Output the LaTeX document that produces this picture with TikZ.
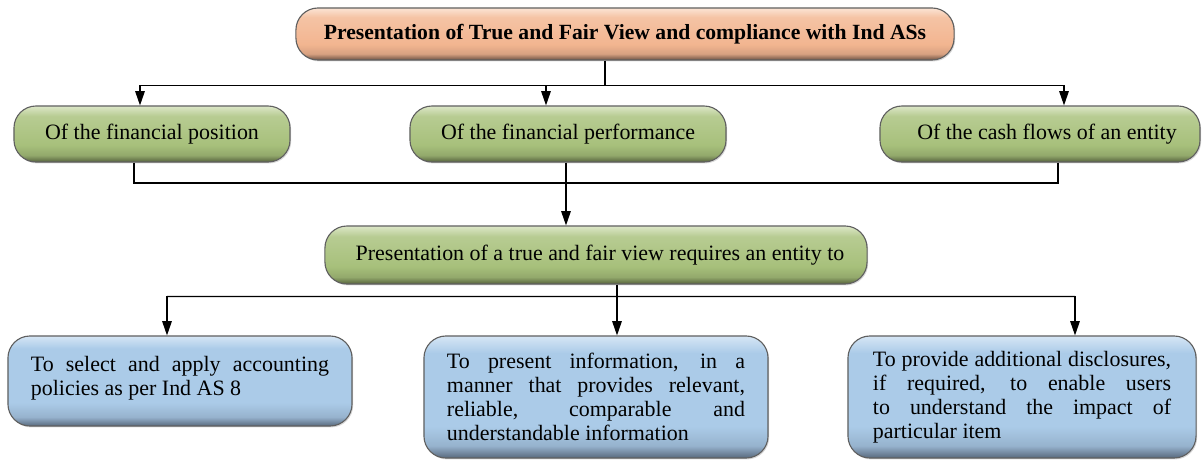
\documentclass[tikz,border=0pt]{standalone}
\usepackage{fontspec}
\setmainfont{Liberation Serif}
\usepackage{tikz}
\usetikzlibrary{arrows.meta,calc,positioning,shadows}

\definecolor{ptop}{HTML}{FBE4D4}
\definecolor{pmid}{HTML}{F2B590}
\definecolor{pbot}{HTML}{6E5244}
\definecolor{gtop}{HTML}{DDE7C8}
\definecolor{gmid}{HTML}{A7C07B}
\definecolor{gbot}{HTML}{56623D}
\definecolor{btop}{HTML}{D6E6F5}
\definecolor{bmid}{HTML}{ABCBE8}
\definecolor{bbot}{HTML}{58697D}

\pgfdeclareverticalshading{peachshade}{100bp}{color(0bp)=(pbot); color(25bp)=(pbot); color(31bp)=(pmid!80!pbot); color(40bp)=(pmid); color(66bp)=(pmid!70!ptop); color(75bp)=(ptop); color(100bp)=(ptop)}
\pgfdeclareverticalshading{greenshade}{100bp}{color(0bp)=(gbot); color(25bp)=(gbot); color(31bp)=(gmid!75!gbot); color(40bp)=(gmid); color(66bp)=(gmid!70!gtop); color(75bp)=(gtop); color(100bp)=(gtop)}
\pgfdeclareverticalshading{blueshade}{100bp}{color(0bp)=(bbot); color(25bp)=(bbot); color(30bp)=(bmid!75!bbot); color(38bp)=(bmid); color(68bp)=(bmid); color(75bp)=(btop); color(100bp)=(btop)}

\tikzset{
  box/.style={draw=gray!75!black, line width=0.8pt, rounded corners=0.55cm,
    font=\fontsize{15.6}{17}\selectfont, inner sep=0pt,
    drop shadow={shadow xshift=0.8pt, shadow yshift=-1pt, opacity=0.3}},
  titlebox/.style={box, shading=peachshade, font=\fontsize{15.4}{17}\selectfont\bfseries},
  greenbox/.style={box, shading=greenshade},
  bluebox/.style={box, shading=blueshade, text width=7.45cm, align=justify},
  line/.style={line width=0.9pt},
  arr/.style={line, -{Triangle[length=3.6mm,width=2.4mm]}}
}

\begin{document}
\begin{tikzpicture}[x=0.025cm, y=-0.025cm]
\useasboundingbox (0,0) rectangle (1202,460);

% top
\node[titlebox, minimum width=16.45cm, minimum height=1.3cm] (title) at (625,34)
  {Presentation of True and Fair View and compliance with Ind ASs};

% second row
\node[greenbox, minimum width=6.9cm, minimum height=1.4cm] (fpos) at (152,134) {Of the financial position};
\node[greenbox, minimum width=7.9cm, minimum height=1.4cm] (fperf) at (568,134) {Of the financial performance};
\node[greenbox, minimum width=8cm, minimum height=1.4cm] (cash) at (1040,134) {\hspace*{0.35cm}Of the cash flows of an entity};

% middle
\node[greenbox, minimum width=13.55cm, minimum height=1.45cm] (req) at (596,255)
  {\hspace*{0.2cm}Presentation of a true and fair view requires an entity to};

% bottom row
\node[bluebox, minimum width=8.6cm, minimum height=2.25cm, text depth=0.85cm] (sel) at (180,381)
  {\hyphenpenalty=10000 To select and apply accounting\linebreak policies as per Ind AS 8};
\node[bluebox, minimum width=8.6cm, minimum height=3.05cm] (pres) at (596,397)
  {\hyphenpenalty=10000 To present information, in a\linebreak manner that provides relevant,\linebreak reliable, comparable and\linebreak understandable information};
\node[bluebox, minimum width=8.7cm, minimum height=3.05cm] (disc) at (1022,397)
  {\hyphenpenalty=10000 To provide additional disclosures,\linebreak if required, to enable users\linebreak to understand the impact of\linebreak particular item};

% title to second row
\coordinate (j1) at (605,86);
\draw[line] (title.south -| j1) -- (j1);
\draw[line] ($(fpos.north)+(-12,-20)$) -- ($(cash.north)+(24,-20)$);
\draw[arr] ($(fpos.north)+(-12,-20)$) -- ($(fpos.north)+(-12,0)$);
\draw[arr] ($(fperf.north)+(-22,-20)$) -- ($(fperf.north)+(-22,0)$);
\draw[arr] ($(cash.north)+(24,-20)$) -- ($(cash.north)+(24,0)$);

% second row to middle
\coordinate (j2) at (566,183);
\draw[line] ($(fpos.south)+(-18,0)$) |- (j2);
\draw[line] ($(cash.south)+(18,0)$) |- (j2);
\draw[arr] (fperf.south -| j2) -- (req.north -| j2);

% middle to bottom row
\coordinate (j3) at (617,297);
\draw[line] (req.south -| j3) -- (j3);
\draw[line] ($(sel.north)+(-13,-39)$) -- ($(disc.north)+(53,-39)$);
\draw[arr] ($(sel.north)+(-13,-39)$) -- ($(sel.north)+(-13,0)$);
\draw[arr] (j3) -- (pres.north -| j3);
\draw[arr] ($(disc.north)+(53,-39)$) -- ($(disc.north)+(53,0)$);
\end{tikzpicture}
\end{document}
